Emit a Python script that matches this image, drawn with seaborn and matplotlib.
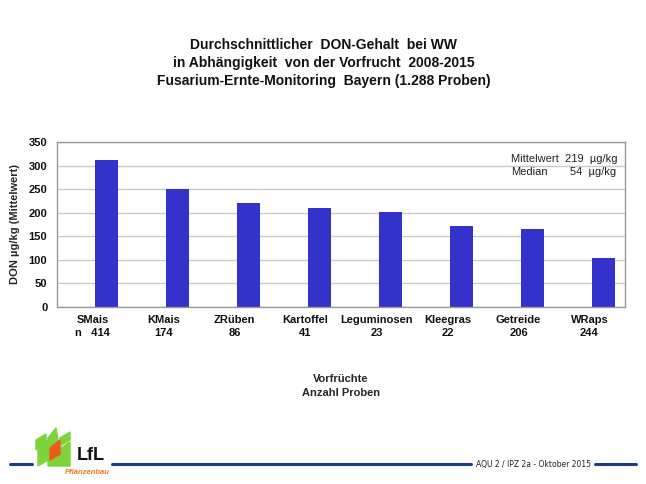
import pandas as pd
import seaborn as sns
import matplotlib.pyplot as plt
from matplotlib.patches import Polygon
from matplotlib.lines import Line2D

# data
crops = ['SMais', 'KMais', 'ZRüben', 'Kartoffel', 'Leguminosen', 'Kleegras', 'Getreide', 'WRaps']
n_samples = [414, 174, 86, 41, 23, 22, 206, 244]
don_mean = [312, 250, 220, 209, 202, 172, 165, 103]

W, H = 646, 484
BAR_COLOR = '#3333cc'


def px(x, y):
    # pixel coords (top-left origin) -> figure fraction
    return x / W, 1 - y / H


def draw_footer(fig):
    line_color = '#1f3c88'
    for x0, x1 in [(10, 32), (112, 471), (595, 636)]:
        (a, yy), (b, _) = px(x0, 464), px(x1, 464)
        fig.add_artist(Line2D([a, b], [yy, yy], color=line_color, lw=2.2,
                              transform=fig.transFigure))
    fig.text(*px(533, 464), 'AQU 2 / IPZ 2a - Oktober 2015', ha='center', va='center',
             fontsize=5.5, color='#222222', family='DejaVu Sans')

    # rough LfL logo
    green = '#7fd33a'
    leaves = [
        [(38, 466), (38, 446), (48, 440), (48, 460)],
        [(48, 466), (48, 438), (56, 428), (58, 440), (58, 466)],
        [(58, 466), (58, 450), (70, 442), (70, 466)],
        [(36, 450), (36, 440), (46, 434), (46, 444)],
        [(60, 446), (60, 438), (70, 432), (70, 440)],
    ]
    for pts in leaves:
        fig.add_artist(Polygon([px(*p) for p in pts], closed=True, color=green,
                               transform=fig.transFigure))
    fig.add_artist(Polygon([px(*p) for p in [(50, 460), (50, 448), (60, 440), (60, 454)]],
                           closed=True, color='#f05a1a', transform=fig.transFigure))
    fig.text(*px(77, 456), 'LfL', ha='left', va='center', fontsize=13,
             fontweight='bold', color='#111111')
    fig.text(*px(87, 473), 'Pflanzenbau', ha='center', va='center', fontsize=5.5,
             style='italic', fontweight='bold', color='#f07820')


def main():
    sns.set_theme(style='white')
    plt.rcParams['font.family'] = ['Liberation Sans', 'DejaVu Sans']

    df = pd.DataFrame({'crop': crops, 'n': n_samples, 'don': don_mean})
    counts = [f'n   {n}' if i == 0 else str(n) for i, n in enumerate(df['n'])]
    df['label'] = [f'{c}\n{n}' for c, n in zip(df['crop'], counts)]

    fig = plt.figure(figsize=(W / 100, H / 100), dpi=100)
    ax = fig.add_axes([57 / W, 1 - 307 / H, (625 - 57) / W, (307 - 142) / H])

    sns.barplot(data=df, x='label', y='don', color=BAR_COLOR, width=0.32,
                saturation=1, ax=ax)
    # bars sit right of the category centre in the original
    for bar in ax.patches:
        bar.set_x(bar.get_x() + 0.2)
        bar.set_edgecolor('none')

    ax.set_xlim(-0.5, len(crops) - 0.5)
    ax.set_ylim(0, 350)
    ax.set_yticks(range(0, 351, 50))
    ax.yaxis.grid(True, color='#c8c8c8', lw=1)
    ax.set_axisbelow(True)
    for s in ax.spines.values():
        s.set_color('#999999')
        s.set_linewidth(1)
    ax.tick_params(axis='both', length=0, labelsize=8, colors='#111111')
    for lab in ax.get_xticklabels() + ax.get_yticklabels():
        lab.set_fontweight('bold')
    for lab in ax.get_xticklabels():
        lab.set_linespacing(1.35)
    ax.tick_params(axis='x', pad=6)
    ax.tick_params(axis='y', pad=7)

    ax.set_xlabel('Vorfrüchte\nAnzahl Proben', fontsize=8, fontweight='bold',
                  labelpad=26, linespacing=1.5)
    ax.set_ylabel('DON µg/kg (Mittelwert)', fontsize=8, fontweight='bold', labelpad=6)

    ax.text(0.8, 0.9, 'Mittelwert  219  µg/kg', transform=ax.transAxes, fontsize=8,
            ha='left', va='center', color='#222222')
    ax.text(0.8, 0.82, 'Median', transform=ax.transAxes, fontsize=8,
            ha='left', va='center', color='#222222')
    ax.text(0.985, 0.82, '54  µg/kg', transform=ax.transAxes, fontsize=8,
            ha='right', va='center', color='#222222')

    fig.text(*px(324, 63), 'Durchschnittlicher  DON-Gehalt  bei WW\n'
             'in Abhängigkeit  von der Vorfrucht  2008-2015\n'
             'Fusarium-Ernte-Monitoring  Bayern (1.288 Proben)',
             ha='center', va='center', fontsize=10, fontweight='bold',
             linespacing=1.35, color='#111111')

    draw_footer(fig)
    fig.savefig('out.png', dpi=100)
    plt.close(fig)


if __name__ == '__main__':
    main()
